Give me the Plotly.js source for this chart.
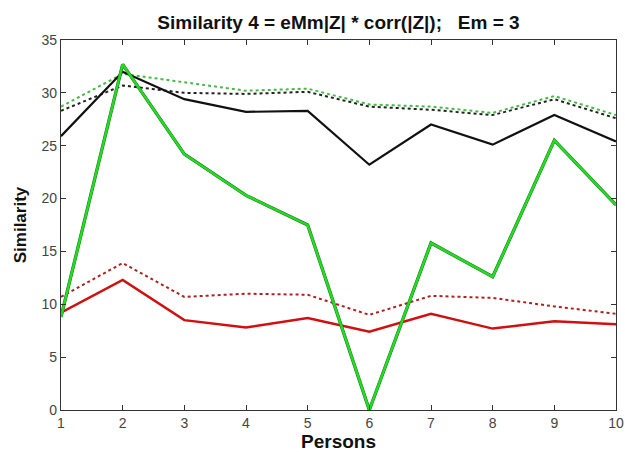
<!DOCTYPE html>
<html>
<head>
<meta charset="utf-8">
<script src="https://cdn.plot.ly/plotly-3.0.1.min.js"></script>
<style>html,body{margin:0;padding:0;background:#fff;}#chart{width:625px;height:452px;}</style>
</head>
<body>
<div id="chart"></div>
<script>
const persons = [1,2,3,4,5,6,7,8,9,10];
const blackSolid = [25.9,32.0,29.4,28.2,28.3,23.2,27.0,25.1,27.9,25.4];
const greenSolid = [8.8,32.7,24.2,20.3,17.5,0.0,15.8,12.6,25.5,19.4];
const redSolid = [9.2,12.3,8.5,7.8,8.7,7.4,9.1,7.7,8.4,8.1];
const redDotted = [10.7,13.9,10.7,11.0,10.9,9.0,10.8,10.6,9.8,9.1];
const greenDotted = [28.7,31.8,31.0,30.2,30.4,28.9,28.7,28.1,29.7,27.9];
const blackDotted = [28.3,30.7,30.0,29.9,30.1,28.7,28.4,27.9,29.4,27.6];
const yTicks = [0,5,10,15,20,25,30,35];

const traces = [
  {x: persons, y: blackDotted, mode: 'lines', line: {color: '#222', width: 2, dash: 'dot'}},
  {x: persons, y: greenDotted, mode: 'lines', line: {color: '#44bb44', width: 2, dash: 'dot'}},
  {x: persons, y: redDotted, mode: 'lines', line: {color: '#b02020', width: 2, dash: 'dot'}},
  {x: persons, y: blackSolid, mode: 'lines', line: {color: '#111', width: 2.2}},
  {x: persons, y: redSolid, mode: 'lines', line: {color: '#d01010', width: 2.5}},
  {x: persons, y: greenSolid, mode: 'lines', line: {color: '#1f6e1f', width: 3.3}},
  {x: persons, y: greenSolid, mode: 'lines', line: {color: '#22dd22', width: 2.4}}
];

const layout = {
  width: 625, height: 452,
  margin: {l: 61, r: 9, t: 40, b: 42},
  paper_bgcolor: '#fff', plot_bgcolor: '#fff',
  showlegend: false,
  font: {family: 'Liberation Sans, Arial, sans-serif', color: '#333'},
  title: {text: '<b>Similarity 4 = eMm|Z| * corr(|Z|);   Em = 3</b>', xref: 'paper', x: 0.5, xanchor: 'center',
          yref: 'container', y: 0.95, yanchor: 'middle',
          font: {size: 19, color: '#111'}},
  xaxis: {
    range: [1, 10], tickmode: 'array', tickvals: persons, ticktext: persons.map(String),
    ticks: 'inside', ticklen: 5, tickcolor: '#333', showline: true, linecolor: '#333', linewidth: 1.2,
    mirror: 'ticks', showgrid: false, zeroline: false,
    tickfont: {size: 14, color: '#444'},
    title: {text: '<b>Persons</b>', font: {size: 19, color: '#111'}, standoff: 2}
  },
  yaxis: {
    range: [0, 35], tickmode: 'array', tickvals: yTicks, ticktext: yTicks.map(String),
    ticks: 'inside', ticklen: 5, tickcolor: '#333', showline: true, linecolor: '#333', linewidth: 1.2,
    mirror: 'ticks', showgrid: false, zeroline: false,
    tickfont: {size: 14, color: '#444'},
    title: {text: '<b>Similarity</b>', font: {size: 17, color: '#111'}, standoff: 10}
  }
};

Plotly.newPlot('chart', traces, layout, {displayModeBar: false, staticPlot: true});
</script>
</body>
</html>
